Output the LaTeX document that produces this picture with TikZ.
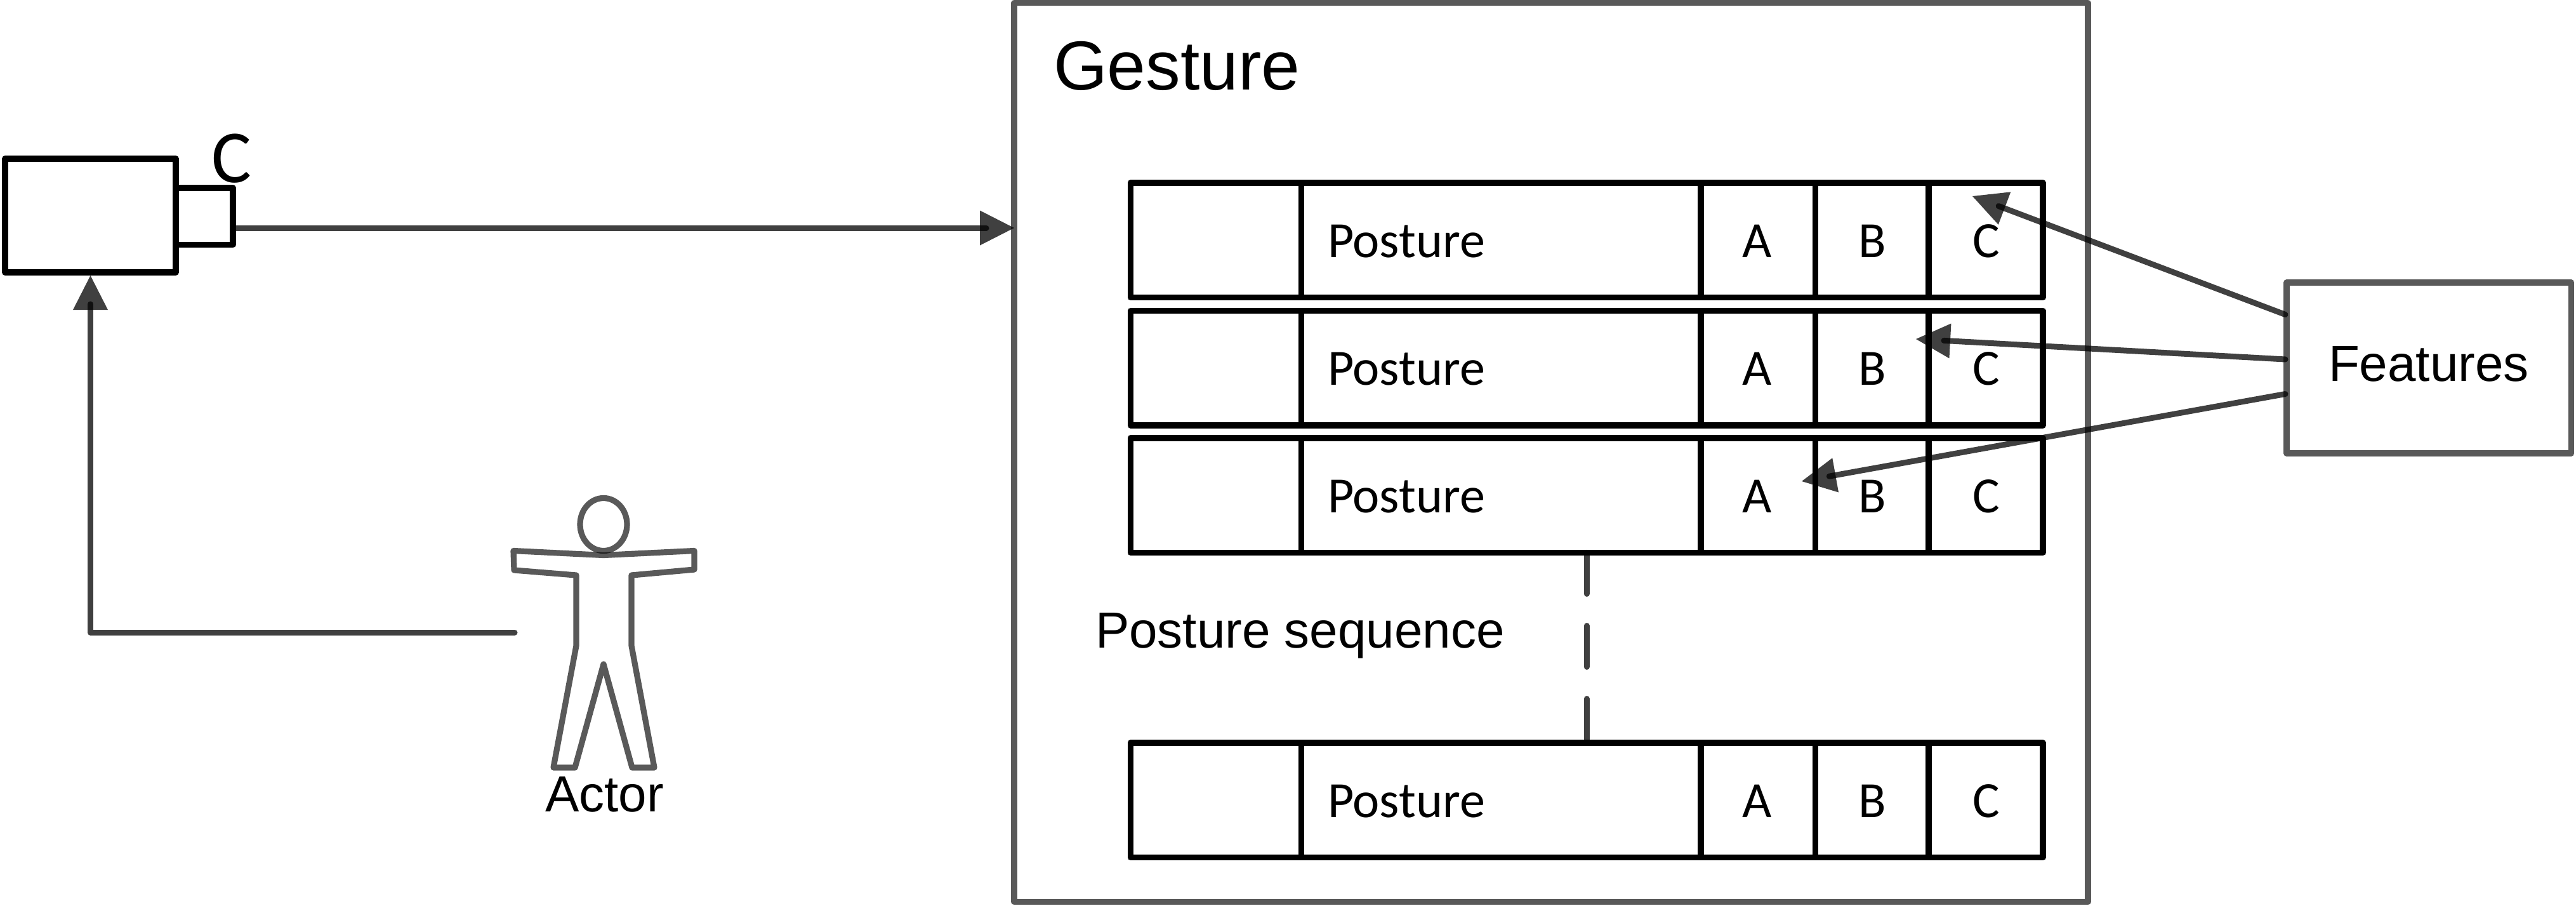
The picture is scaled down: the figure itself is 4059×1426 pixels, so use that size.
\documentclass[tikz,border=0pt]{standalone}
\usepackage{fontspec}
\setmainfont{Liberation Sans}
\newfontfamily\carl{Carlito}
\usetikzlibrary{arrows.meta,calc}
% 1 reference pixel = 0.25pt
\tikzset{
  x=0.25pt,y=-0.25pt,
  cell/.style={draw=black,line width=2.3pt,line join=round,inner sep=0pt,outer sep=0pt,
    minimum height=45.1pt},
  camerabox/.style={draw=black,line width=2.4pt,line join=round,inner sep=0pt,outer sep=0pt},
  framebox/.style={draw=black,draw opacity=0.65,line width=2.4pt,line join=round,inner sep=0pt,outer sep=0pt},
  figureline/.style={draw=black,draw opacity=0.65,line width=2.3pt,line join=round},
  conn/.style={draw=black,opacity=0.75,line width=2.25pt,line cap=round,line join=round},
  dashconn/.style={draw=black,opacity=0.75,line width=2.25pt,line cap=round,dash pattern=on 16.25pt off 12.5pt},
  headtip/.style={-{Triangle[length=13.5pt,width=13.75pt,line width=0pt]},line cap=butt},
  lab/.style={inner sep=0pt,outer sep=0pt,anchor=base west,text=black},
  centerlab/.style={inner sep=0pt,outer sep=0pt,anchor=base,text=black},
  carllab/.style={font=\carl\fontsize{20}{24}\selectfont},
  sanslab/.style={font=\fontsize{20}{24}\selectfont},
}
% connector with a round line end inside a separately laid arrow head
\newcommand\arrowconn[2]{%
  \draw[conn,shorten >=11pt] (#1) -- (#2);
  \draw[conn,headtip] ($(#2)!13.5pt!(#1)$) -- (#2);
}
% name, top edge
\newcommand\postrow[2]{%
  \pgfmathsetmacro\yc{#2+90.25}
  \pgfmathsetmacro\yb{#2+117}
  \node[cell,minimum width=67.25pt] (#1-blank) at (1915.75,\yc) {};
  \node[cell,minimum width=157.4pt] (#1-body) at (2365.25,\yc) {};
  \node[cell,minimum width=45.1pt] (#1-a) at (2770.25,\yc) {};
  \node[cell,minimum width=44.6pt] (#1-b) at (2949.75,\yc) {};
  \node[cell,minimum width=45pt] (#1-c) at (3129,\yc) {};
  \node[lab,carllab] (#1-ptxt) at (2092,\yb) {Posture};
  \node[centerlab,carllab] (#1-atxt) at (2769,\yb) {A};
  \node[centerlab,carllab] (#1-btxt) at (2950,\yb) {B};
  \node[centerlab,carllab] (#1-ctxt) at (3130,\yb) {C};
}
\begin{document}
\begin{tikzpicture}
\useasboundingbox (0,0) rectangle (4059,1426);

% camera
\node[camerabox,minimum width=67.25pt,minimum height=44.75pt] (camBody) at (142.5,339.5) {};
\node[camerabox,minimum width=22.5pt,minimum height=22.4pt] (camLens) at (322,340.75) {};
\node[centerlab,font=\carl\fontsize{29.5}{34}\selectfont] (camLabel) at (365,287) {C};

% gesture frame
\node[framebox,minimum width=423pt,minimum height=354pt] (gesture) at (2444,712.5) {};
\node[lab,font=\fontsize{27.3}{32}\selectfont] (gestureLabel) at (1660,141) {Gesture};

% posture rows
\postrow{r1}{288}
\postrow{r2}{489.5}
\postrow{r3}{690}
\postrow{r4}{1170}
\node[lab,sanslab] (seqLabel) at (1726,1020) {Posture sequence};
\coordinate (dashX) at (2500,0);
\draw[dashconn] (dashX |- r3-body.south) -- (dashX |- r4-body.north);

% features
\node[framebox,minimum width=112.1pt,minimum height=67.25pt] (features) at (3827.25,579.5) {};
\node[lab,sanslab] (featuresLabel) at (3669,600) {Features};

% actor
\draw[figureline] (951,826) ellipse [x radius=37,y radius=41.5];
\draw[figureline] (809,867.5) -- (951,874.5) -- (1094,867.5) -- (1094,897) -- (995,906)
  -- (995,1017) -- (1031,1209) -- (996,1209) -- (951,1046) -- (906,1209) -- (872,1209)
  -- (908,1017) -- (908,906) -- (810,898) -- cycle;
\node[lab,sanslab] (actorLabel) at (859,1278) {Actor};

% connectors
\coordinate (camOut) at (367,359);
\coordinate (gestIn) at (1598,359);
\coordinate (actorHand) at (811,996);
\coordinate (camTurn) at (142.5,996);
\coordinate (camIn) at (142.5,434);
\coordinate (fC) at (3601,495.5);
\coordinate (fB) at (3601,566);
\coordinate (fA) at (3601,620.5);
\coordinate (tipC) at (3108,309);
\coordinate (tipB) at (3019,534);
\coordinate (tipA) at (2839,758);

\arrowconn{camOut}{gestIn}
\draw[conn] (actorHand) -- (camTurn) -- ($(camIn)+(0,45)$);
\draw[conn,headtip] ($(camIn)+(0,54)$) -- (camIn);
\arrowconn{fC}{tipC}
\arrowconn{fB}{tipB}
\arrowconn{fA}{tipA}
\end{tikzpicture}
\end{document}
